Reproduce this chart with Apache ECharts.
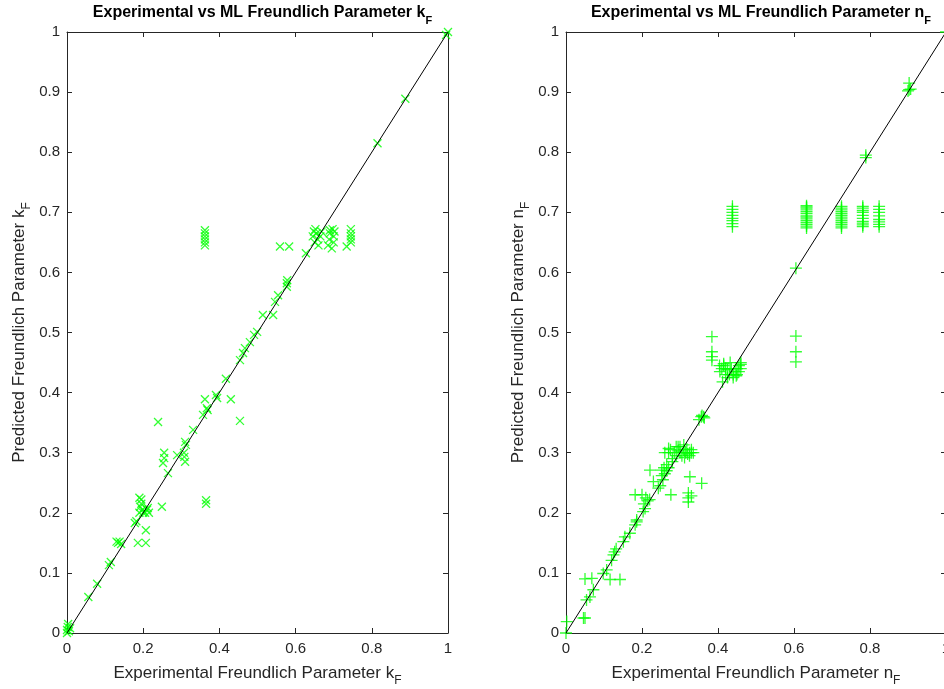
<!DOCTYPE html>
<html>
<head>
<meta charset="utf-8">
<script src="https://cdn.jsdelivr.net/npm/echarts@6/dist/echarts.min.js"></script>
<style>html,body{margin:0;padding:0;background:#fff;overflow:hidden;}#c{width:944px;height:689px;}</style>
</head>
<body>
<div id="c"></div>
<script>
// ---- Data: Freundlich kF (experimental vs predicted) ----
const kfExp = [0,0,0.002,0.005,0.003,0.008,0.056,0.079,0.11,0.115,0.13,0.134,0.138,0.142,0.178,0.182,
  0.19,0.192,0.195,0.195,0.198,0.2,0.205,0.21,0.215,0.212,0.19,0.186,0.207,0.207,
  0.239,0.249,0.255,0.255,0.252,0.265,0.289,0.307,0.308,0.31,0.31,0.312,0.331,
  0.357,0.362,0.367,0.369,0.365,0.365,0.391,0.394,0.417,0.43,0.454,
  0.454,0.462,0.467,0.48,0.491,0.499,0.514,0.541,0.546,0.554,0.577,0.577,0.578,
  0.362,0.362,0.362,0.362,0.362,0.362,0.559,0.583,0.627,
  0.645,0.648,0.65,0.655,0.658,0.66,0.665,0.668,0.652,
  0.685,0.688,0.69,0.69,0.695,0.7,0.7,0.702,0.697,
  0.734,0.745,0.745,0.745,0.745,0.745,0.815,0.888,0.995,1];
const kfPred = [0,0.005,0.01,0.003,0.015,0.008,0.06,0.082,0.113,0.118,0.152,0.15,0.152,0.148,0.183,0.186,
  0.2,0.21,0.215,0.222,0.205,0.2,0.2,0.205,0.2,0.208,0.225,0.15,0.15,0.171,
  0.351,0.21,0.3,0.291,0.283,0.266,0.296,0.3,0.293,0.285,0.318,0.313,0.338,
  0.363,0.389,0.374,0.371,0.215,0.221,0.396,0.391,0.423,0.389,0.353,
  0.454,0.466,0.474,0.484,0.496,0.501,0.529,0.529,0.551,0.562,0.576,0.582,0.587,
  0.645,0.65,0.655,0.66,0.665,0.67,0.643,0.643,0.632,
  0.66,0.668,0.65,0.665,0.655,0.645,0.66,0.668,0.672,
  0.645,0.655,0.665,0.67,0.64,0.65,0.66,0.668,0.672,
  0.643,0.65,0.655,0.66,0.665,0.672,0.815,0.889,0.995,1];

// ---- Data: Freundlich nF (experimental vs predicted) ----
const nfExp = [0,0.002,0.046,0.05,0.054,0.063,0.072,0.068,0.05,0.098,0.107,0.116,0.142,0.12,0.125,0.151,0.155,0.168,0.182,0.186,0.186,
  0.203,0.208,0.182,0.2,0.21,0.22,0.243,0.23,0.221,0.252,0.252,0.255,0.26,0.265,0.27,0.276,
  0.27,0.27,0.26,0.28,0.285,0.29,0.295,0.3,0.31,0.315,0.32,0.325,0.33,0.335,0.3,0.31,
  0.275,0.29,0.305,0.318,0.33,0.325,0.28,0.295,0.312,0.265,0.258,0.248,0.215,0.205,0.128,0.132,
  0.326,0.357,0.322,0.322,0.322,0.33,0.35,0.356,0.362,0.358,0.364,
  0.384,0.384,0.384,0.384,
  0.404,0.41,0.415,0.42,0.42,0.425,0.43,0.435,0.44,0.445,0.45,0.455,0.46,0.46,0.412,0.45,
  0.405,0.415,0.425,0.44,0.455,0.46,0.432,0.448,
  0.605,0.605,0.605,0.605,
  0.438,0.438,0.438,0.438,0.438,0.438,0.438,0.438,
  0.633,0.633,0.633,0.633,0.633,0.633,0.633,0.633,0.633,0.633,0.633,0.633,0.633,0.633,
  0.725,0.725,0.725,0.725,0.725,0.725,0.725,0.725,0.725,0.725,0.725,0.725,0.725,
  0.781,0.781,0.781,0.781,0.781,0.781,0.781,0.781,0.781,0.781,
  0.824,0.824,0.824,0.824,0.824,0.824,0.824,0.824,
  0.789,0.789,0.903,0.903,0.9,0.907,1];
const nfPred = [0,0.019,0.025,0.025,0.055,0.06,0.072,0.091,0.09,0.099,0.105,0.089,0.089,0.121,0.13,0.152,0.16,0.166,0.18,0.188,0.185,
  0.202,0.207,0.23,0.23,0.225,0.222,0.241,0.252,0.271,0.271,0.262,0.255,0.265,0.27,0.275,0.23,
  0.3,0.307,0.3,0.29,0.3,0.295,0.31,0.3,0.305,0.3,0.298,0.3,0.3,0.3,0.31,0.313,
  0.305,0.31,0.295,0.306,0.305,0.295,0.285,0.303,0.292,0.28,0.275,0.245,0.22,0.215,0.135,0.14,
  0.26,0.249,0.233,0.225,0.218,0.228,0.355,0.36,0.36,0.362,0.358,
  0.493,0.468,0.454,0.46,
  0.445,0.44,0.445,0.44,0.43,0.425,0.43,0.44,0.43,0.435,0.44,0.445,0.45,0.44,0.418,0.43,
  0.435,0.448,0.438,0.425,0.435,0.447,0.45,0.428,
  0.607,0.494,0.468,0.451,
  0.676,0.681,0.686,0.69,0.695,0.7,0.705,0.71,
  0.674,0.677,0.68,0.683,0.686,0.689,0.692,0.694,0.698,0.701,0.704,0.707,0.709,0.711,
  0.674,0.677,0.68,0.683,0.686,0.689,0.692,0.695,0.698,0.701,0.704,0.707,0.71,
  0.676,0.679,0.682,0.685,0.69,0.695,0.7,0.703,0.707,0.71,
  0.676,0.68,0.684,0.688,0.694,0.7,0.705,0.71,
  0.791,0.795,0.915,0.904,0.902,0.905,1];

const xTicks = [0, 0.2, 0.4, 0.6, 0.8, 1];
const yTicks = [0, 0.1, 0.2, 0.3, 0.4, 0.5, 0.6, 0.7, 0.8, 0.9, 1];
const refLine = [[0, 0], [1, 1]];

function pairs(xs, ys) { return xs.map((v, i) => [v, ys[i]]); }

const AX = '#262626';
const SANS = '"Liberation Sans", Arial, sans-serif';
const richName = {
  a: { fontSize: 17, fontFamily: SANS, color: AX, verticalAlign: 'bottom', padding: [0, 0, 5, 0] },
  s: { fontSize: 12, fontFamily: SANS, color: AX, verticalAlign: 'bottom' }
};
const richTitle = {
  a: { fontSize: 16, fontWeight: 'bold', fontFamily: SANS, color: '#000', verticalAlign: 'bottom', padding: [0, 0, 5, 0] },
  s: { fontSize: 11, fontWeight: 'bold', fontFamily: SANS, color: '#000', verticalAlign: 'bottom' }
};

const grids = [
  { left: 67, top: 32, width: 381, height: 601, outerBoundsMode: 'none', containLabel: false },
  { left: 566, top: 32, width: 380, height: 601, outerBoundsMode: 'none', containLabel: false }
];

function xAx(g, pos, name) {
  return {
    type: 'value', gridIndex: g, position: pos, min: 0, max: 1, interval: 0.2,
    axisLine: { show: true, onZero: false, lineStyle: { color: AX, width: 1 } },
    axisTick: { show: true, inside: true, length: 5, lineStyle: { color: AX } },
    axisLabel: { show: pos === 'bottom', fontSize: 15, fontFamily: SANS, color: AX, margin: 8,
      formatter: v => String(+v.toFixed(1)) },
    splitLine: { show: false },
    name: name || '', nameLocation: 'middle', nameGap: 32,
    nameTextStyle: { rich: richName }
  };
}
function yAx(g, pos, name) {
  return {
    type: 'value', gridIndex: g, position: pos, min: 0, max: 1, interval: 0.1,
    axisLine: { show: true, onZero: false, lineStyle: { color: AX, width: 1 } },
    axisTick: { show: true, inside: true, length: 5, lineStyle: { color: AX } },
    axisLabel: { show: pos === 'left', fontSize: 15, fontFamily: SANS, color: AX, margin: 7,
      formatter: v => String(+v.toFixed(1)) },
    splitLine: { show: false },
    name: name || '', nameLocation: 'middle', nameGap: 34, nameRotate: 90,
    nameTextStyle: { rich: richName }
  };
}

const xMark = 'path://M0,0L10,10M0,10L10,0';
const plusMark = 'path://M5,0L5,10M0,5L10,5';

const option = {
  animation: false,
  backgroundColor: '#fff',
  title: [
    { text: '{a|Experimental vs ML Freundlich Parameter k}{s|F}', left: 257.5, textAlign: 'center', top: 0,
      textStyle: { rich: richTitle } },
    { text: '{a|Experimental vs ML Freundlich Parameter n}{s|F}', left: 756, textAlign: 'center', top: 0,
      textStyle: { rich: richTitle } }
  ],
  grid: grids,
  xAxis: [
    xAx(0, 'bottom', '{a|Experimental Freundlich Parameter k}{s|F}'),
    xAx(1, 'bottom', '{a|Experimental Freundlich Parameter n}{s|F}'),
    xAx(0, 'top'), xAx(1, 'top')
  ],
  yAxis: [
    yAx(0, 'left', '{a|Predicted Freundlich Parameter k}{s|F}'),
    yAx(1, 'left', '{a|Predicted Freundlich Parameter n}{s|F}'),
    yAx(0, 'right'), yAx(1, 'right')
  ],
  series: [
    { type: 'scatter', xAxisIndex: 0, yAxisIndex: 0, data: pairs(kfExp, kfPred),
      symbol: xMark, symbolSize: 8,
      itemStyle: { color: 'none', borderColor: '#00ff00', borderWidth: 1.3 }, z: 3 },
    { type: 'line', xAxisIndex: 0, yAxisIndex: 0, data: refLine, symbol: 'none',
      lineStyle: { color: '#000', width: 1 }, z: 4 },
    { type: 'scatter', xAxisIndex: 1, yAxisIndex: 1, data: pairs(nfExp, nfPred),
      symbol: plusMark, symbolSize: 12,
      itemStyle: { color: 'none', borderColor: '#00ff00', borderWidth: 1.3 }, z: 3 },
    { type: 'line', xAxisIndex: 1, yAxisIndex: 1, data: refLine, symbol: 'none',
      lineStyle: { color: '#000', width: 1 }, z: 4 }
  ]
};

const chart = echarts.init(document.getElementById('c'), null, { renderer: 'canvas' });
chart.setOption(option);
</script>
</body>
</html>
